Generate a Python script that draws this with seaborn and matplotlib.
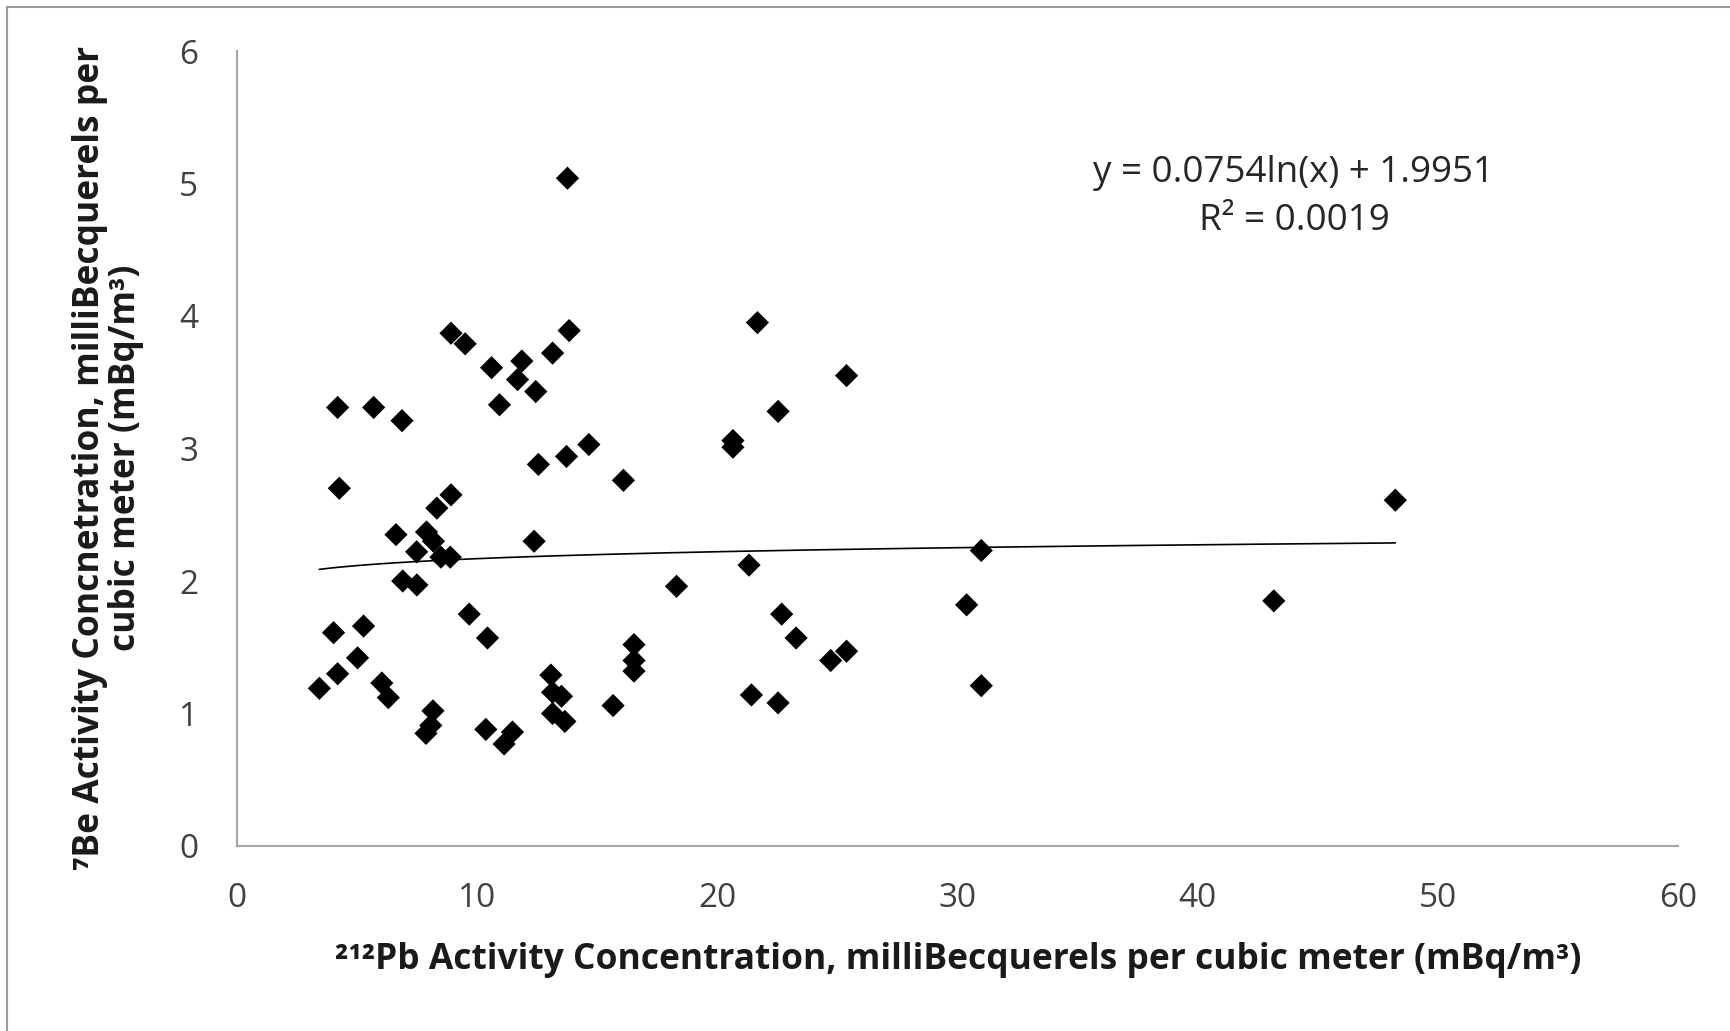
import numpy as np
import pandas as pd
import seaborn as sns
import matplotlib
matplotlib.use("Agg")
import matplotlib.pyplot as plt
from matplotlib.lines import Line2D

# ---- data ----
pb212 = [3.43, 4.19, 4.02, 4.19, 4.26, 5.02, 5.27, 5.69, 6.03, 6.30,
         6.62, 6.87, 6.90, 7.49, 7.48, 7.89, 8.18, 8.32, 8.49, 8.88,
         8.91, 8.91, 9.50, 9.67, 7.87, 8.07, 8.16, 10.36, 10.43, 10.60,
         10.93, 11.12, 11.47, 11.68, 11.86, 12.44, 12.37, 12.55, 13.14, 13.07,
         13.14, 13.14, 13.51, 13.65, 13.72, 13.76, 13.83, 14.65, 15.66, 16.09,
         16.53, 16.53, 16.53, 18.30, 20.65, 20.65, 21.32, 21.42, 21.67, 22.53,
         22.53, 22.68, 23.28, 24.72, 25.38, 25.38, 30.38, 30.99, 30.99, 43.17,
         48.23]
be7 = [1.19, 1.30, 1.61, 3.31, 2.70, 1.42, 1.66, 3.31, 1.23, 1.12,
       2.35, 3.21, 2.00, 1.97, 2.22, 2.37, 2.30, 2.55, 2.18, 2.18,
       2.65, 3.87, 3.79, 1.75, 0.85, 0.91, 1.02, 0.88, 1.57, 3.61,
       3.33, 0.77, 0.86, 3.52, 3.66, 3.43, 2.30, 2.88, 3.72, 1.29,
       1.16, 1.00, 1.13, 0.94, 2.94, 5.04, 3.89, 3.03, 1.06, 2.76,
       1.52, 1.40, 1.32, 1.96, 3.06, 3.01, 2.12, 1.14, 3.95, 3.28,
       1.08, 1.75, 1.57, 1.40, 1.47, 3.55, 1.82, 2.23, 1.21, 1.85,
       2.61]
fit_a = 0.0754
fit_b = 1.9951
r_squared = 0.0019
x_ticks = [0, 10, 20, 30, 40, 50, 60]
y_ticks = [0, 1, 2, 3, 4, 5, 6]

df = pd.DataFrame({"pb": pb212, "be": be7})
trend_x = np.linspace(min(pb212), max(pb212), 300)
trend = pd.DataFrame({"x": trend_x, "y": fit_a * np.log(trend_x) + fit_b})

sns.set_style("white")
plt.rcParams["font.family"] = ["Open Sans", "DejaVu Sans"]

W, H = 1731, 1031
fig = plt.figure(figsize=(W / 100, H / 100), dpi=100)
ax = fig.add_axes([237 / W, 1 - 846 / H, (1678 - 237) / W, (846 - 51) / H])

sns.scatterplot(data=df, x="pb", y="be", marker="D", s=140, color="black",
                edgecolor="none", linewidth=0, ax=ax, zorder=3)
sns.lineplot(data=trend, x="x", y="y", color="black", linewidth=1.2, ax=ax, zorder=2)

ax.set_xlim(0, 60)
ax.set_ylim(0, 6)
ax.set_xticks(x_ticks)
ax.set_yticks(y_ticks)
ax.set_xlabel("")
ax.set_ylabel("")
ax.tick_params(axis="both", length=0, labelsize=24, labelcolor="#404040")
ax.tick_params(axis="x", pad=26)
ax.tick_params(axis="y", pad=28)
for s in ["top", "right"]:
    ax.spines[s].set_visible(False)
for s in ["left", "bottom"]:
    ax.spines[s].set_color("#a6a6a6")
    ax.spines[s].set_linewidth(1.5)

# equation text
fig.text(1294 / W, 1 - 173 / H, "y = 0.0754ln(x) + 1.9951", ha="center", va="center",
         fontsize=26.5, color="#262626")
fig.text(1294 / W, 1 - 221 / H, f"R² = {r_squared:.4f}", ha="center", va="center",
         fontsize=26.5, color="#262626")

# axis titles
fig.text(958 / W, 1 - 960 / H,
         "²¹²Pb Activity Concentration, milliBecquerels per cubic meter (mBq/m³)",
         ha="center", va="center", fontsize=25.5, fontweight="bold", color="#1a1a1a")
fig.text(108 / W, 1 - 458 / H,
         "⁷Be Activity Concnetration, milliBecquerels per\ncubic meter (mBq/m³)",
         ha="center", va="center", multialignment="center", rotation=90,
         fontsize=25.5, fontweight="bold", color="#1a1a1a", linespacing=0.98)

# outer frame (top and left edges visible in reference)
fig.add_artist(Line2D([7 / W, 1], [1 - 7 / H, 1 - 7 / H], transform=fig.transFigure,
                      color="#999999", linewidth=1.5))
fig.add_artist(Line2D([7 / W, 7 / W], [0, 1 - 7 / H], transform=fig.transFigure,
                      color="#999999", linewidth=1.5))

fig.savefig("out.png", dpi=100, facecolor="white")
